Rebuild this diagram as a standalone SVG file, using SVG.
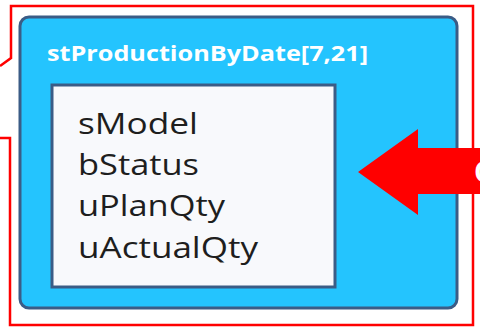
<svg xmlns="http://www.w3.org/2000/svg" width="480" height="333" viewBox="0 0 480 333">
<style>
.frame{fill:none;stroke:#FF0000;stroke-width:2.5;stroke-linejoin:miter}
.outer{fill:#24C4FE;stroke:#3B5C86;stroke-width:3}
.inner{fill:#F8F9FC;stroke:#3B5C86;stroke-width:3}
.title{font-family:"Open Sans","Noto Sans",sans-serif;font-weight:bold;font-size:21px;fill:#FFFFFF}
.field{font-family:"Open Sans","Noto Sans",sans-serif;font-size:30px;fill:#1E1E1E}
.arrow{fill:#FF0000}
.alabel{font-family:"Open Sans","Noto Sans",sans-serif;font-weight:bold;font-size:28px;fill:#FFFFFF}
</style>
<g id="frame">
<polyline class="frame" points="0,66 11,58 11,6 473,6 473,325 10,325 10,138 0,138"/>
</g>
<g id="stProductionByDate">
<rect class="outer" x="20" y="17" width="437" height="291" rx="9"/>
<text class="title" x="47" y="61" textLength="321" lengthAdjust="spacingAndGlyphs">stProductionByDate[7,21]</text>
<rect class="inner" x="52" y="85" width="283" height="202"/>
<text class="field" x="78" y="134" textLength="120" lengthAdjust="spacingAndGlyphs">sModel</text>
<text class="field" x="78" y="175" textLength="121" lengthAdjust="spacingAndGlyphs">bStatus</text>
<text class="field" x="78" y="216" textLength="147" lengthAdjust="spacingAndGlyphs">uPlanQty</text>
<text class="field" x="78" y="258" textLength="180" lengthAdjust="spacingAndGlyphs">uActualQty</text>
</g>
<g id="connectors">
<polygon class="arrow" points="358,172 418,129 418,148 482,148 482,194 418,194 418,215"/>
<text class="alabel" x="474" y="182">C</text>
</g>
</svg>
